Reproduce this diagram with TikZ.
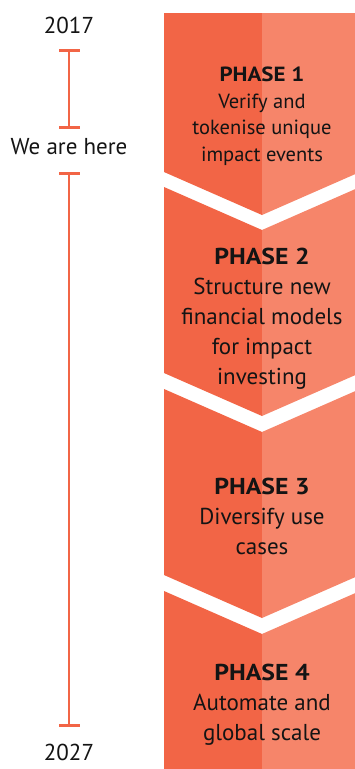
\documentclass[tikz,border=0pt]{standalone}
\usepackage{fontspec}
\setmainfont{PT Sans}
\newfontfamily\headfont{PT Sans}[FakeStretch=1.12]
\usetikzlibrary{arrows.meta,positioning}
\definecolor{phasedark}{RGB}{242,101,70}
\definecolor{phaselight}{RGB}{246,133,106}
\definecolor{inkgray}{RGB}{20,20,20}
\newcommand{\phasehead}[1]{{\headfont\bfseries #1}}

\begin{document}
\begin{tikzpicture}[
    x=1pt, y=-1pt,
    phasetext/.style={align=center, text=inkgray, font=\fontsize{23}{30}\selectfont},
    yeartext/.style={text=inkgray, font=\fontsize{23}{26}\selectfont},
    span/.style={{Bar[width=21pt,length=3pt]}-{Bar[width=21pt,length=3pt]}, line width=2.7pt, draw=phasedark}
  ]
    \useasboundingbox (0,0) rectangle (355,769);
    \clip (0,0) rectangle (355,769);
    % chevrons: top edge, top dip, bottom edge, bottom dip
    \foreach \ya/\da/\yb/\db in {13/0/172/43, 187/43/373/43, 389/43/575/43, 591/43/769/0} {
      \fill[phasedark] (164,\ya) -- (262,\ya+\da) -- (262,\yb+\db) -- (164,\yb) -- cycle;
      \fill[phaselight] (262,\ya+\da) -- (360,\ya) -- (360,\yb) -- (262,\yb+\db) -- cycle;
    }
    \node[phasetext, font=\fontsize{20.5}{26.5}\selectfont] (p1) at (262,116) {\phasehead{PHASE 1}\\Verify and\\tokenise unique\\impact events};
    \node[phasetext] (p2) at (262,318.5) {\phasehead{PHASE 2}\\Structure new\\financial models\\for impact\\investing};
    \node[phasetext] (p3) at (262,516) {\phasehead{PHASE 3}\\Diversify use\\cases};
    \node[phasetext] (p4) at (262,705) {\phasehead{PHASE 4}\\Automate and\\global scale};
    % timeline
    \node[yeartext] (y17) at (69,25) {2017};
    \node[yeartext] (here) at (69,147) {We are here};
    \node[yeartext] (y27) at (69,752) {2027};
    \draw[span] ([yshift=-24pt]y17.center) -- ([yshift=18pt]here.center);
    \draw[span] ([yshift=-25pt]here.center) -- ([yshift=25pt]y27.center);
\end{tikzpicture}
\end{document}
